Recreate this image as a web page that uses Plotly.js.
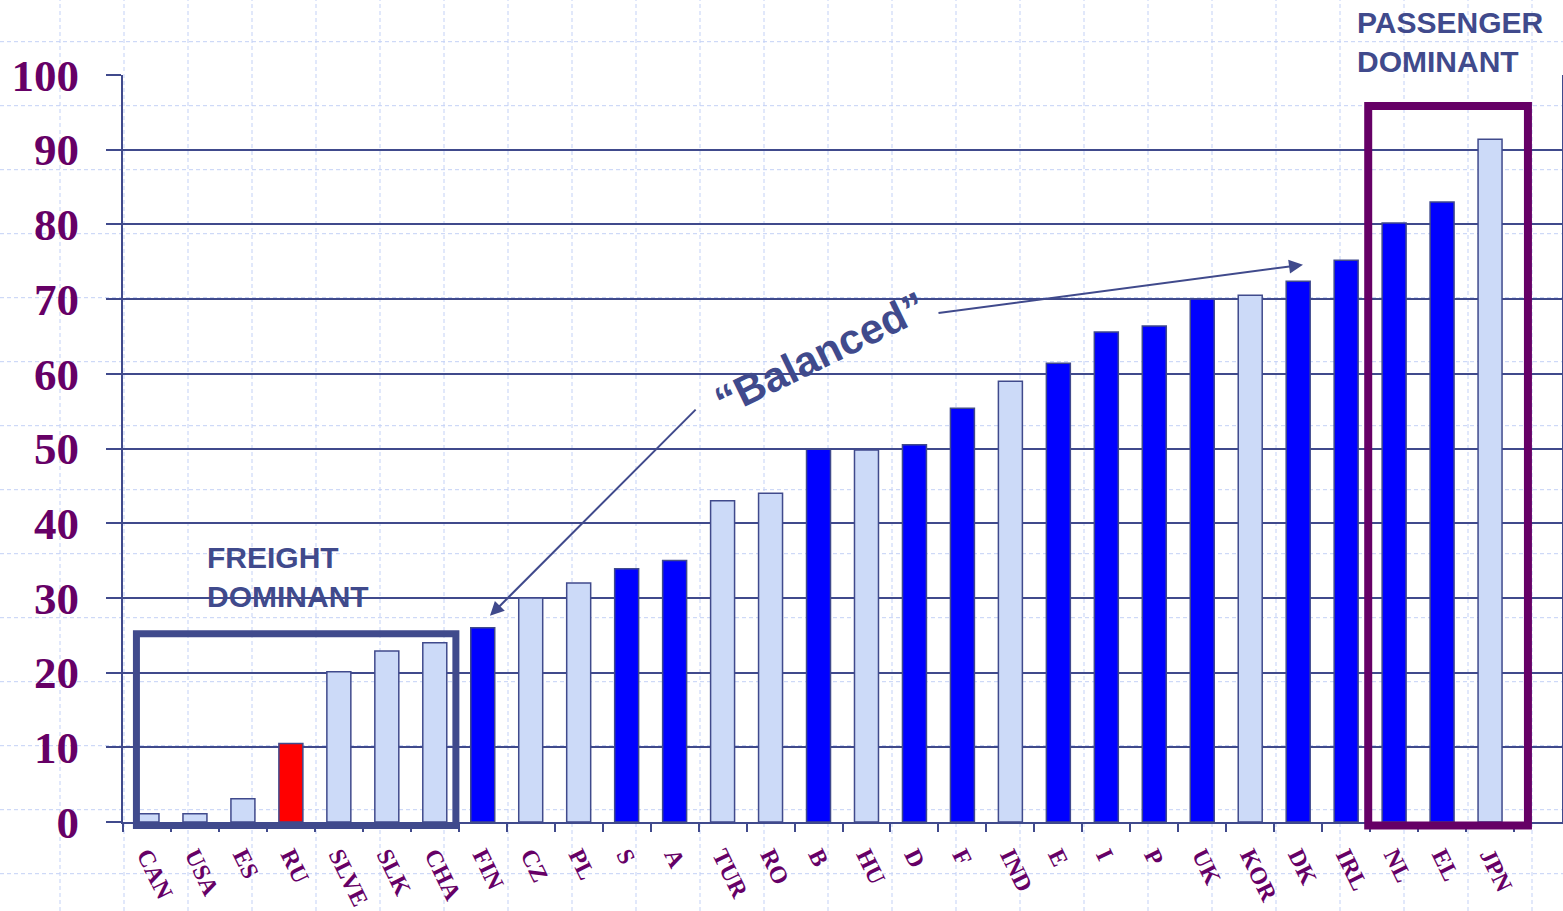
<!DOCTYPE html>
<html>
<head>
<meta charset="utf-8">
<script src="https://cdn.plot.ly/plotly-3.0.1.min.js"></script>
<style>
  html, body { margin: 0; padding: 0; background: #ffffff; }
  #chart { width: 1563px; height: 911px; }
</style>
</head>
<body>
<div id="chart"></div>
<script>
// Share of passenger traffic by country (%)
const countries = ['CAN', 'USA', 'ES', 'RU', 'SLVE', 'SLK', 'CHA', 'FIN', 'CZ', 'PL',
  'S', 'A', 'TUR', 'RO', 'B', 'HU', 'D', 'F', 'IND', 'E',
  'I', 'P', 'UK', 'KOR', 'DK', 'IRL', 'NL', 'EL', 'JPN'];
const shares = [1.1, 1.1, 3.1, 10.5, 20.1, 22.9, 24, 26, 30, 32,
  33.9, 35, 43, 44, 49.9, 49.8, 50.5, 55.4, 59, 61.4,
  65.6, 66.4, 70, 70.5, 72.4, 75.2, 80.2, 83, 91.4];
// 'eu' = highlighted group, 'other' = light bars, 'ru' = Russia
const groups = ['other', 'other', 'other', 'ru', 'other', 'other', 'other', 'eu', 'other', 'other',
  'eu', 'eu', 'other', 'other', 'eu', 'other', 'eu', 'eu', 'other', 'eu',
  'eu', 'eu', 'eu', 'other', 'eu', 'eu', 'eu', 'eu', 'other'];
const yTicks = [0, 10, 20, 30, 40, 50, 60, 70, 80, 90, 100];

const groupColor = { eu: '#0000FF', other: '#CCDAF8', ru: '#FF0000' };
const ink = '#404A8C';
const plum = '#660066';

// plot area in page pixels
const W = 1563, H = 911;
const M = { l: 123, r: 1, t: 75, b: 89 };
const pw = W - M.l - M.r, ph = H - M.t - M.b;
const nSlots = 30; // one empty slot after the last country

// category index / value -> paper fraction (keeps frames unclipped)
const px = i => (i + 0.5) / nSlots;
const py = v => v / 100;

// faint dashed page grid behind everything
const shapes = [];
const gridStyle = { color: '#C3D1F6', width: 1, dash: '4px,3px' };
for (let gx = 60; gx < W; gx += 64) {
  const xp = (gx - M.l) / pw;
  shapes.push({ type: 'line', xref: 'paper', yref: 'paper', layer: 'below',
    x0: xp, x1: xp, y0: (M.t + ph - H) / ph, y1: (M.t + ph) / ph, line: gridStyle });
}
for (let gy = 41.7; gy < H; gy += 64) {
  const yp = (M.t + ph - gy) / ph;
  shapes.push({ type: 'line', xref: 'paper', yref: 'paper', layer: 'below',
    x0: -M.l / pw, x1: (W - M.l) / pw, y0: yp, y1: yp, line: gridStyle });
}

// group frames
shapes.push({ type: 'rect', xref: 'paper', yref: 'paper', layer: 'above',
  x0: px(-0.22), x1: px(6.44), y0: py(-0.47), y1: py(25.2),
  line: { color: ink, width: 7 }, fillcolor: 'rgba(0,0,0,0)' });
shapes.push({ type: 'rect', xref: 'paper', yref: 'paper', layer: 'above',
  x0: px(25.46), x1: px(28.79), y0: py(-0.47), y1: py(95.85),
  line: { color: plum, width: 8 }, fillcolor: 'rgba(0,0,0,0)' });

const trace = {
  type: 'bar',
  x: countries,
  y: shares,
  width: 0.5,
  marker: {
    color: groups.map(g => groupColor[g]),
    line: { color: ink, width: 1.5 }
  },
  hoverinfo: 'x+y'
};

const labelFont = { family: 'Liberation Sans, Arial, sans-serif', size: 30, color: ink, weight: 'bold' };

const annotations = [
  { xref: 'paper', yref: 'paper', x: (205 - M.l) / pw, y: (M.t + ph - 539) / ph,
    xanchor: 'left', yanchor: 'top', align: 'left', showarrow: false,
    text: 'FREIGHT<br>DOMINANT', font: labelFont },
  { xref: 'paper', yref: 'paper', x: (1355 - M.l) / pw, y: (M.t + ph - 4) / ph,
    xanchor: 'left', yanchor: 'top', align: 'left', showarrow: false,
    text: 'PASSENGER<br>DOMINANT', font: labelFont },
  { xref: 'x', yref: 'y', x: 14.05, y: 62.7, showarrow: false, textangle: -26,
    text: '\u201CBalanced\u201D',
    font: { family: 'Liberation Sans, Arial, sans-serif', size: 42, color: ink, weight: 'bold' } },
  // pointers from the label to the balanced range
  { xref: 'x', yref: 'y', axref: 'x', ayref: 'y', x: 7.15, y: 27.6, ax: 11.47, ay: 55.4,
    text: '', showarrow: true, arrowhead: 2, arrowsize: 1.4, arrowwidth: 2, arrowcolor: ink, standoff: 0, startstandoff: 0 },
  { xref: 'x', yref: 'y', axref: 'x', ayref: 'y', x: 24.1, y: 74.6, ax: 16.47, ay: 68.1,
    text: '', showarrow: true, arrowhead: 2, arrowsize: 1.4, arrowwidth: 2, arrowcolor: ink, standoff: 0, startstandoff: 0 }
];

const layout = {
  width: W, height: H,
  margin: M,
  paper_bgcolor: '#ffffff',
  plot_bgcolor: 'rgba(0,0,0,0)',
  showlegend: false,
  bargap: 0.5,
  xaxis: {
    type: 'category',
    categoryorder: 'array',
    categoryarray: countries,
    range: [-0.5, nSlots - 0.5],
    tickson: 'boundaries',
    ticks: 'outside', ticklen: 8, tickwidth: 2, tickcolor: ink,
    showline: true, linecolor: ink, linewidth: 2,
    showgrid: false, zeroline: false,
    tickangle: 64,
    ticklabelstandoff: 8,
    tickfont: { family: 'Liberation Serif, Times New Roman, serif', size: 24, color: plum, weight: 'bold' }
  },
  yaxis: {
    range: [0, 100],
    tickvals: yTicks,
    ticktext: yTicks.map(String),
    ticks: 'outside', ticklen: 15, tickwidth: 2, tickcolor: ink,
    showline: true, linecolor: ink, linewidth: 2, mirror: true,
    showgrid: true, gridcolor: ink, gridwidth: 2,
    zeroline: false,
    ticklabelstandoff: 18,
    tickfont: { family: 'Liberation Serif, Times New Roman, serif', size: 45, color: plum, weight: 'bold' }
  },
  shapes: shapes,
  annotations: annotations
};

Plotly.newPlot('chart', [trace], layout, { displayModeBar: false, staticPlot: true });
</script>
</body>
</html>
